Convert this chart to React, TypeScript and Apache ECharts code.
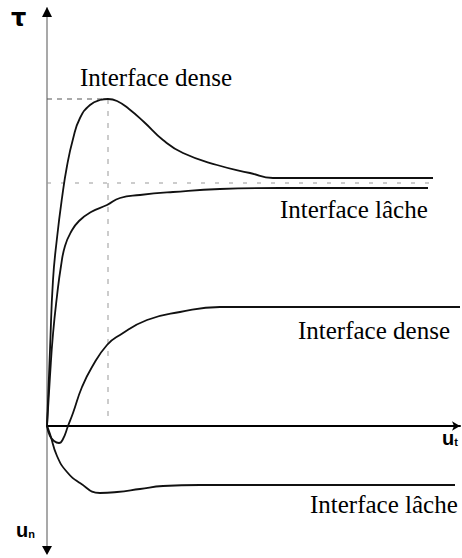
import React, { useEffect, useRef } from "react";
import * as echarts from "echarts";

// Tangential displacement u_t (x) against shear stress τ (positive y) or
// normal displacement u_n (negative y), arbitrary units.
const X_MAX = 413;
const Y_MAX = 418;
const Y_MIN = -127;

const denseShear: [number, number][] = [
  [0, 0], [3, 76], [6, 146], [10, 188], [15, 228], [20, 260], [26, 287],
  [33, 308], [43, 321], [53, 326], [61, 327], [70, 325], [82, 317],
  [97, 304], [116, 286], [136, 273], [170, 261], [203, 253],
  [226, 248], [263, 248], [386, 248],
];

const looseShear: [number, number][] = [
  [0, 0], [3, 50], [6, 92], [10, 130], [14, 160], [18, 180], [24, 194],
  [32, 205], [44, 214], [60, 221], [73, 228], [93, 231],
  [126, 234], [173, 237], [233, 238], [381, 238],
];

const denseNormal: [number, number][] = [
  [0, 0], [3, -10], [7, -15], [12, -17], [16, -13], [21, 0], [26, 13],
  [35, 39], [45, 59], [60, 81], [73, 91], [100, 106], [133, 114],
  [173, 119], [193, 119], [413, 119],
];

const looseNormal: [number, number][] = [
  [0, 0], [3, -8], [10, -30], [20, -46], [33, -57], [53, -67], [70, -66],
  [93, -63], [116, -60], [153, -59], [408, -59],
];

// Guide lines: peak stress and residual stress
const peakGuideH: [number, number][] = [[0, 327], [61, 327]];
const peakGuideV: [number, number][] = [[61, 327], [61, 6]];
const residualGuide: [number, number][] = [[0, 243], [383, 243]];

const curveLabels = [
  { text: "Interface dense", x: 80, y: 77 },
  { text: "Interface lâche", x: 280, y: 209 },
  { text: "Interface dense", x: 298, y: 330 },
  { text: "Interface lâche", x: 310, y: 504 },
];

const curveStyle = { color: "#111", width: 1.8 };

export default function App() {
  const ref = useRef<HTMLDivElement>(null);

  useEffect(() => {
    if (!ref.current) return;
    const chart = echarts.init(ref.current, undefined, { renderer: "svg" });

    const curve = (data: [number, number][]) => ({
      type: "line",
      data,
      smooth: 0.5,
      showSymbol: false,
      lineStyle: curveStyle,
      z: 3,
    });
    const guide = (data: [number, number][], color: string, dash: number[]) => ({
      type: "line",
      data,
      showSymbol: false,
      lineStyle: { color, width: 1, type: dash },
      z: 1,
    });

    chart.setOption({
      animation: false,
      backgroundColor: "#fff",
      grid: { left: 47, right: 2, top: 8, bottom: 5 },
      xAxis: {
        type: "value",
        min: 0,
        max: X_MAX,
        axisLine: {
          onZero: true,
          lineStyle: { color: "#000", width: 2 },
          symbol: ["none", "arrow"],
          symbolSize: [7, 8],
        },
        axisTick: { show: false },
        axisLabel: { show: false },
        splitLine: { show: false },
      },
      yAxis: {
        type: "value",
        min: Y_MIN,
        max: Y_MAX,
        axisLine: { onZero: false, lineStyle: { color: "#8c8c8c", width: 1.5 } },
        axisTick: { show: false },
        axisLabel: { show: false },
        splitLine: { show: false },
      },
      series: [
        guide(peakGuideH, "#555", [5, 5]),
        guide(peakGuideV, "#999", [5, 7]),
        guide(residualGuide, "#999", [4, 10]),
        curve(denseShear),
        curve(looseShear),
        curve(denseNormal),
        curve(looseNormal),
      ],
    });

    const top = chart.convertToPixel({ gridIndex: 0 }, [0, Y_MAX]) as number[];
    const bottom = chart.convertToPixel({ gridIndex: 0 }, [0, Y_MIN]) as number[];

    const axisName = (text: string, x: number, y: number) => ({
      type: "text",
      x,
      y,
      style: {
        text,
        fill: "#000",
        align: "left",
        verticalAlign: "middle",
        rich: {
          u: { font: 'bold 20px "Liberation Sans"', fill: "#000" },
          s: { font: 'bold 11px "Liberation Sans"', fill: "#000", padding: [8, 0, 0, 0] },
        },
      },
      z: 10,
    });

    chart.setOption({
      graphic: [
        {
          type: "polygon",
          shape: { points: [[top[0], top[1] - 1], [top[0] - 5, top[1] + 9], [top[0] + 5, top[1] + 9]] },
          style: { fill: "#000" },
          z: 10,
        },
        {
          type: "polygon",
          shape: { points: [[bottom[0], bottom[1] + 2], [bottom[0] - 5, bottom[1] - 7], [bottom[0] + 5, bottom[1] - 7]] },
          style: { fill: "#000" },
          z: 10,
        },
        ...curveLabels.map((l) => ({
          type: "text",
          x: l.x,
          y: l.y,
          style: {
            text: l.text,
            font: '25px "Liberation Serif"',
            fill: "#000",
            align: "left",
            verticalAlign: "middle",
          },
          z: 10,
        })),
        {
          type: "text",
          x: 11,
          y: 18,
          style: {
            text: "τ",
            font: 'bold 24px "DejaVu Sans"',
            fill: "#000",
            align: "left",
            verticalAlign: "middle",
          },
          z: 10,
        },
        axisName("{u|u}{s|t}", 442, 438),
        axisName("{u|u}{s|n}", 16, 530),
      ],
    });

    return () => chart.dispose();
  }, []);

  return (
    <div
      ref={ref}
      style={{ position: "absolute", left: 0, top: 0, width: 462, height: 558, background: "#fff" }}
    />
  );
}
